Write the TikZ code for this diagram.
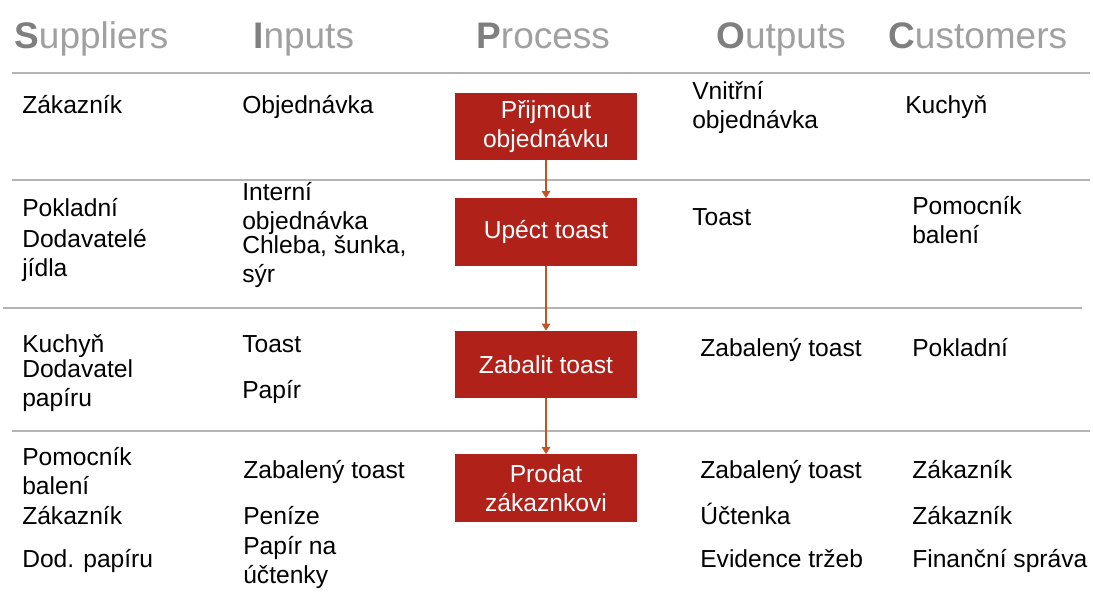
\documentclass[tikz,border=0pt]{standalone}
\usepackage{fontspec}
\setmainfont{Liberation Sans}
\usetikzlibrary{arrows.meta}

\definecolor{boxred}{HTML}{AF2119}
\definecolor{arrowred}{HTML}{C4521F}
\definecolor{hdlight}{HTML}{A0A0A0}
\definecolor{hddark}{HTML}{7F7F7F}
\definecolor{rule}{HTML}{B4B4B4}

\newcommand{\hd}[2]{{\color{hddark}\bfseries #1}#2}

\begin{document}
\begin{tikzpicture}[x=0.025cm, y=-0.025cm,
    every node/.style={inner sep=0pt},
    head/.style={anchor=base west, text=hdlight, font=\fontsize{26.3}{30}\selectfont},
    item/.style={anchor=base west, align=left, font=\fontsize{17.5}{20.6}\selectfont},
    stage/.style={fill=boxred, text=white, align=center, minimum width=4.55cm,
      minimum height=1.68cm, font=\fontsize{17.5}{20.6}\selectfont},
    flow/.style={draw=arrowred, line width=0.8pt, -{Triangle[width=6pt, length=5pt]}},
    sep/.style={draw=rule, line width=1.4pt}]
    \useasboundingbox (0,0) rectangle (1093,594);

    % headers
    \node[head] (hs) at (14, 48) {\hd{S}{uppliers}};
    \node[head] (hi) at (253, 48) {\hd{I}{nputs}};
    \node[head] (hp) at (476, 48) {\hd{P}{rocess}};
    \node[head] (ho) at (716, 48) {\hd{O}{utputs}};
    \node[head] (hc) at (888, 48) {\hd{C}{ustomers}};

    % rules
    \draw[sep] (12, 73) -- (1090, 73);
    \draw[sep] (12, 180) -- (1090, 180);
    \draw[sep] (3, 308) -- (1082, 308);
    \draw[sep] (12, 431) -- (1090, 431);

    % process steps
    \node[stage] (p1) at (546, 126.5) {Přijmout\\objednávku};
    \node[stage] (p2) at (546, 232) {Upéct toast};
    \node[stage] (p3) at (546, 364.5) {Zabalit toast};
    \node[stage] (p4) at (546, 488) {Prodat\\zákaznkovi};
    \draw[flow] (p1) -- (p2);
    \draw[flow] (p2) -- (p3);
    \draw[flow] (p3) -- (p4);

    % row 1 (two-line items sit on their last line)
    \node[item] (s1) at (22, 113) {Zákazník};
    \node[item] (i1) at (242, 113) {Objednávka};
    \node[item] (o1) at (692, 128) {Vnitřní\\objednávka};
    \node[item] (c1) at (905, 113) {Kuchyň};

    % row 2
    \node[item] (s2a) at (22, 216) {Pokladní};
    \node[item] (s2b) at (22, 276) {Dodavatelé\\jídla};
    \node[item] (i2a) at (242, 229) {Interní\\objednávka};
    \node[item] (i2b) at (242, 282) {Chleba, šunka,\\sýr};
    \node[item] (o2) at (692, 225) {Toast};
    \node[item] (c2) at (912, 243) {Pomocník\\balení};

    % row 3
    \node[item] (s3a) at (22, 352) {Kuchyň};
    \node[item] (s3b) at (22, 406) {Dodavatel\\papíru};
    \node[item] (i3a) at (242, 352) {Toast};
    \node[item] (i3b) at (242, 398) {Papír};
    \node[item] (o3) at (700, 356) {Zabalený toast};
    \node[item] (c3) at (912, 356) {Pokladní};

    % row 4
    \node[item] (s4a) at (22, 494) {Pomocník\\balení};
    \node[item] (s4b) at (22, 524) {Zákazník};
    \node[item] (s4c) at (22, 567) {Dod. papíru};
    \node[item] (i4a) at (243, 478) {Zabalený toast};
    \node[item] (i4b) at (243, 524) {Peníze};
    \node[item] (i4c) at (243, 583) {Papír na\\účtenky};
    \node[item] (o4a) at (700, 478) {Zabalený toast};
    \node[item] (o4b) at (700, 524) {Účtenka};
    \node[item] (o4c) at (700, 567) {Evidence tržeb};
    \node[item] (c4a) at (912, 478) {Zákazník};
    \node[item] (c4b) at (912, 524) {Zákazník};
    \node[item] (c4c) at (912, 567) {Finanční správa};
  \end{tikzpicture}
\end{document}
